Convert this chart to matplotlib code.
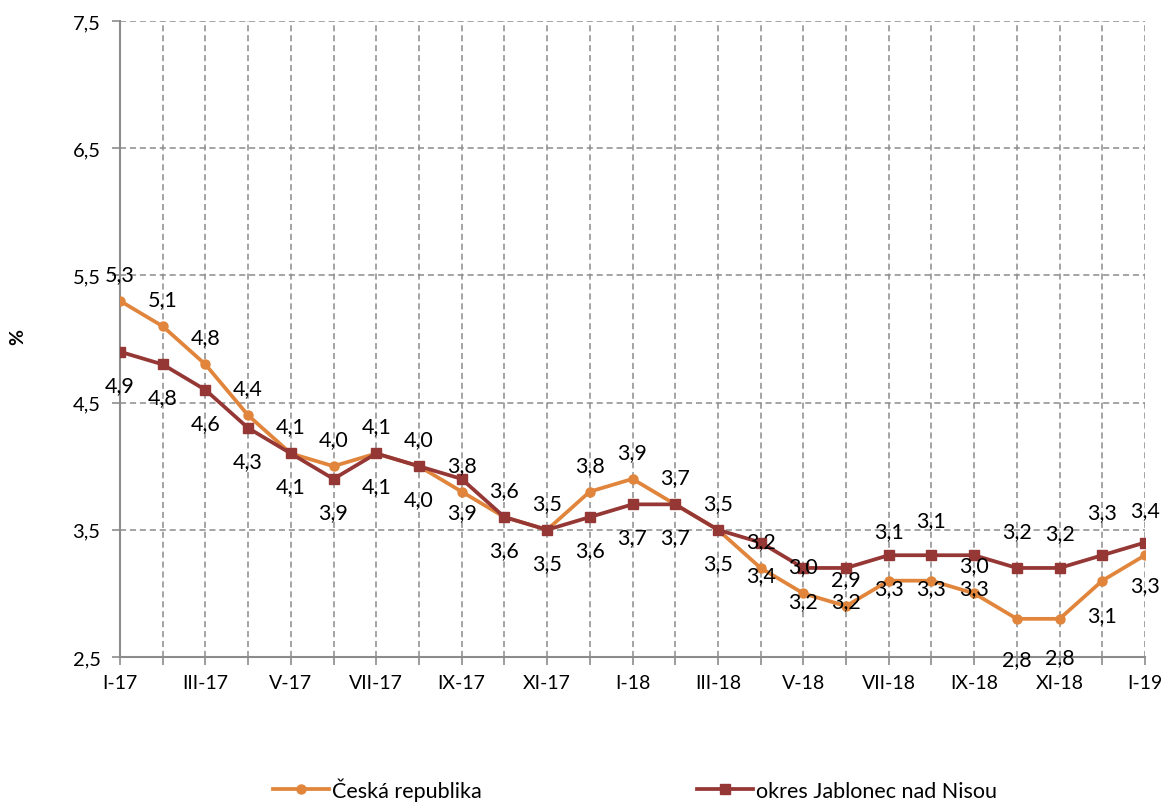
import numpy as np
import matplotlib
matplotlib.use("Agg")
import matplotlib.pyplot as plt

plt.rcParams['font.family'] = ['Lato', 'DejaVu Sans']

months = ["I-17", "II-17", "III-17", "IV-17", "V-17", "VI-17", "VII-17", "VIII-17",
          "IX-17", "X-17", "XI-17", "XII-17", "I-18", "II-18", "III-18", "IV-18",
          "V-18", "VI-18", "VII-18", "VIII-18", "IX-18", "X-18", "XI-18", "XII-18", "I-19"]
cr = [5.3, 5.1, 4.8, 4.4, 4.1, 4.0, 4.1, 4.0, 3.8, 3.6, 3.5, 3.8, 3.9, 3.7, 3.5,
      3.2, 3.0, 2.9, 3.1, 3.1, 3.0, 2.8, 2.8, 3.1, 3.3]
jbc = [4.9, 4.8, 4.6, 4.3, 4.1, 3.9, 4.1, 4.0, 3.9, 3.6, 3.5, 3.6, 3.7, 3.7, 3.5,
       3.4, 3.2, 3.2, 3.3, 3.3, 3.3, 3.2, 3.2, 3.3, 3.4]
yticks = [2.5, 3.5, 4.5, 5.5, 6.5, 7.5]

# label offsets in pixels (positive = up), as placed in the original
off_cr = [27] * 18 + [50, 61, 28, -40, -38, -34, -30]
off_jbc = [-33] * 21 + [37, 35, 43, 32]

c_cr = "#E0853B"
c_jbc = "#953735"

fig = plt.figure(figsize=(11.66, 8.03), dpi=100)
ax = fig.add_axes([120 / 1166, 1 - 658 / 803, 1025 / 1166, 636 / 803])

x = np.arange(len(months))
ax.plot(x, cr, color=c_cr, lw=2.7, marker="o", ms=6.5, label="Česká republika", zorder=3)
ax.plot(x, jbc, color=c_jbc, lw=2.7, marker="s", ms=6.5, label="okres Jablonec nad Nisou", zorder=4)

for i in x:
    ax.annotate(f"{cr[i]:.1f}".replace(".", ","), (i, cr[i]), xytext=(0, off_cr[i]),
                textcoords="offset pixels", ha="center", va="center", fontsize=15.5, zorder=5)
    ax.annotate(f"{jbc[i]:.1f}".replace(".", ","), (i, jbc[i]), xytext=(0, off_jbc[i]),
                textcoords="offset pixels", ha="center", va="center", fontsize=15.5, zorder=5)

ax.set_xlim(0, len(months) - 1)
ax.set_ylim(2.5, 7.5)
ax.set_yticks(yticks)
ax.set_yticklabels([f"{v:.1f}".replace(".", ",") for v in yticks], fontsize=14.5)
ax.set_xticks(x)
ax.set_xticklabels([m if i % 2 == 0 else "" for i, m in enumerate(months)], fontsize=14)
ax.tick_params(axis="both", color="#8c8c8c", length=6, width=1.2)
ax.tick_params(axis="x", pad=6)
ax.tick_params(axis="y", pad=8)

ax.grid(True, color="#8c8c8c", linestyle=(0, (4, 2.5)), lw=1.1)
for s in ["top", "right"]:
    ax.spines[s].set_visible(False)
for s in ["left", "bottom"]:
    ax.spines[s].set_color("#8c8c8c")
    ax.spines[s].set_linewidth(1.5)

fig.text(18 / 1166, 1 - 337 / 803, "%", rotation=90, fontsize=14, fontweight="bold",
         ha="center", va="center")

fig.legend(loc="center", bbox_to_anchor=(635 / 1166, 1 - 790 / 803), ncol=2, frameon=False,
           fontsize=15.5, columnspacing=10, handlelength=2.6, handletextpad=0.15,
           borderaxespad=0, borderpad=0)

fig.savefig("out.png", dpi=100)
